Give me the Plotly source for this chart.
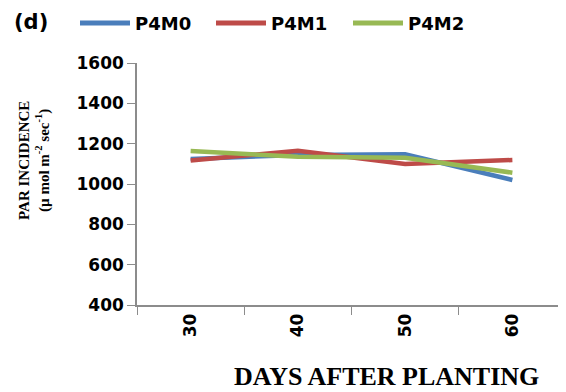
import plotly.graph_objects as go

days = ["30", "40", "50", "60"]
p4m0 = [1124, 1144, 1147, 1020]
p4m1 = [1116, 1165, 1099, 1119]
p4m2 = [1164, 1135, 1130, 1056]
yticks = [400, 600, 800, 1000, 1200, 1400, 1600]

series = [("P4M0", p4m0, "#4a7ebb"), ("P4M1", p4m1, "#be4b48"), ("P4M2", p4m2, "#98b954")]

# page has an 8px body margin; work in page pixel coordinates
OFF = 8
W, H = 566 - OFF, 392 - OFF
PL, PT, PR, PB = 137, 63, 566, 305  # plot area in page pixels
L, T = PL - OFF, PT - OFF
R = W - (PR - OFF)
B = H - (PB - OFF)
pw, ph = PR - PL, PB - PT

def px(x):
    return (x - PL) / pw

def py(y):
    return (PB - y) / ph

fig = go.Figure()
for name, vals, col in series:
    fig.add_trace(go.Scatter(x=days, y=vals, name=name, mode="lines",
                             line=dict(color=col, width=4.5), showlegend=False))

tickfont = dict(family="DejaVu Sans", size=17, color="black", weight="bold")
fig.update_layout(
    width=W, height=H,
    margin=dict(l=L, r=R, t=T, b=B),
    plot_bgcolor="white", paper_bgcolor="white",
    xaxis=dict(type="category", tickson="boundaries", ticks="outside", ticklen=8,
               tickcolor="#8c8c8c", showline=True, linecolor="#8c8c8c", linewidth=1.5,
               showgrid=False, tickangle=-90, automargin=False,
               tickfont=tickfont, range=[-0.5, 3.5]),
    yaxis=dict(range=[400, 1600], tickvals=yticks, ticks="outside", ticklen=8,
               tickcolor="#8c8c8c", showline=True, linecolor="#8c8c8c", linewidth=1.5,
               showgrid=False, zeroline=False, automargin=False,
               tickfont=tickfont),
)

# manual legend
legx = [(80, 130), (216, 266), (353, 403)]
for (name, vals, col), (x0, x1) in zip(series, legx):
    fig.add_shape(type="line", xref="paper", yref="paper", x0=px(x0), x1=px(x1),
                  y0=py(23), y1=py(23), line=dict(color=col, width=5))
    fig.add_annotation(text=name, xref="paper", yref="paper", x=px(x1 + 3), y=py(23),
                       xanchor="left", yanchor="middle", showarrow=False,
                       font=dict(family="DejaVu Sans", size=18, color="black", weight="bold"))

fig.add_annotation(text="(d)", xref="paper", yref="paper", x=px(12), y=py(22),
                   xanchor="left", yanchor="middle", showarrow=False,
                   font=dict(family="DejaVu Sans", size=21, color="black", weight="bold"))
fig.add_annotation(text="PAR INCIDENCE<br>(µ mol m<sup>-2</sup> sec<sup>-1</sup>)",
                   xref="paper", yref="paper", x=px(34), y=py(161), textangle=-90,
                   xanchor="center", yanchor="middle", showarrow=False,
                   font=dict(family="Liberation Serif", size=15, color="black", weight="bold"))
fig.add_annotation(text="DAYS AFTER PLANTING", xref="paper", yref="paper",
                   x=px(386), y=py(376), xanchor="center", yanchor="middle", showarrow=False,
                   font=dict(family="Liberation Serif", size=26, color="black", weight="bold"))

fig.write_html("out.html")
